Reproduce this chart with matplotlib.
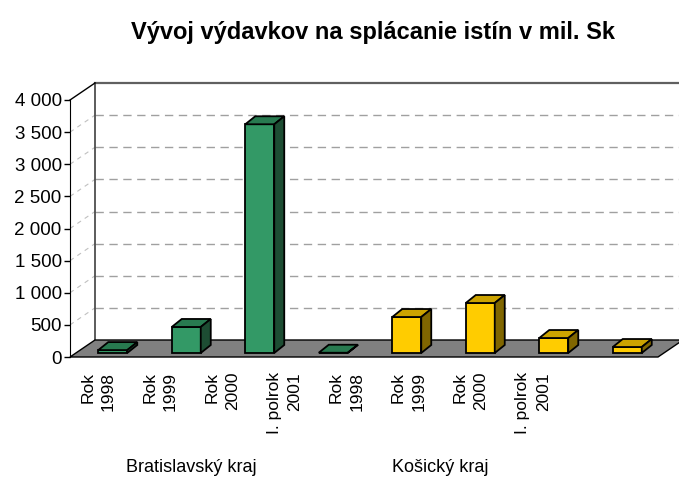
import matplotlib
matplotlib.use("Agg")
import matplotlib.pyplot as plt
from matplotlib.ticker import FuncFormatter
from matplotlib.transforms import offset_copy

plt.rcParams['font.family'] = ['Liberation Sans', 'DejaVu Sans']

# data
title = "Vývoj výdavkov na splácanie istín v mil. Sk"
periods = ["Rok\n1998", "Rok\n1999", "Rok\n2000", "I. polrok\n2001"]
regions = ["Bratislavský kraj", "Košický kraj"]
bratislava = [45, 405, 3560, 4]
kosice = [560, 778, 233, 93]

values = bratislava + kosice
labels = periods + periods
front_col = ["#339966"] * 4 + ["#ffcc00"] * 4
top_col = ["#287a50"] * 4 + ["#cca300"] * 4
side_col = ["#1d4d33"] * 4 + ["#806600"] * 4

W, H = 679, 478
fig = plt.figure(figsize=(W / 100, H / 100), dpi=100)

# front plane of the 3d box in pixels
x0, x1, yb, yt = 70, 658, 357, 100
ax = fig.add_axes([x0 / W, (H - yb) / H, (x1 - x0) / W, (yb - yt) / H])
ax.set_xlim(-0.5, 7.5)
ax.set_ylim(0, 4000)

sx = (x1 - x0) / 8.0          # px per category
sy = (yb - yt) / 4000.0       # px per unit
DX, DY = 25 / sx, 17 / sy     # full depth of the box
ox, oy = 6 / sx, 4 / sy       # bar front offset
bdx, bdy = 10 / sx, 8 / sy    # bar depth
bw = 29 / sx

L, R = -0.5, 7.5
# back wall gridlines
for v in range(500, 4000, 500):
    ax.plot([L + DX, R + DX], [v + DY, v + DY], color="#a0a0a0", lw=1,
            ls=(0, (6, 4)), clip_on=False, zorder=1)
    ax.plot([L, L + DX], [v, v + DY], color="#c0c0c0", lw=0.8,
            ls=(0, (4, 4)), clip_on=False, zorder=1)
ax.plot([L + DX, R + DX], [4000 + DY, 4000 + DY], color="#606060", lw=1.6,
        clip_on=False, zorder=1)
ax.plot([L + DX, L + DX], [DY, 4000 + DY], color="#404040", lw=1.2,
        clip_on=False, zorder=2)
ax.plot([L, L + DX], [4000, 4000 + DY], color="black", lw=1,
        clip_on=False, zorder=2)

# floor
ax.fill([L, R, R + DX, L + DX], [0, 0, DY, DY], facecolor="#808080",
        edgecolor="black", lw=1, clip_on=False, zorder=2)

# bars
for i, v in enumerate(values):
    xl = i - bw / 2 + ox
    xr = xl + bw
    b = oy
    t = oy + v
    ax.bar(xl, v, width=bw, bottom=b, align="edge", color=front_col[i],
           edgecolor="black", lw=1.3, zorder=4, clip_on=False)
    ax.fill([xl, xr, xr + bdx, xl + bdx], [t, t, t + bdy, t + bdy],
            facecolor=top_col[i], edgecolor="black", lw=1.3, zorder=4,
            clip_on=False)
    ax.fill([xr, xr + bdx, xr + bdx, xr], [b, b + bdy, t + bdy, t],
            facecolor=side_col[i], edgecolor="black", lw=1.3, zorder=4,
            clip_on=False)

for s in ["top", "right", "bottom"]:
    ax.spines[s].set_visible(False)
ax.spines["left"].set_color("black")
ax.set_xticks([])
ax.set_yticks(range(0, 4001, 500))
ax.yaxis.set_major_formatter(FuncFormatter(lambda v, p: f"{int(v):,}".replace(",", " ")))
ax.tick_params(axis="y", length=4, width=1, pad=2, labelsize=13.5)
ax.patch.set_alpha(0)

# category labels (Excel puts them on a narrower band)
lx0, lw_ = 67, 497
ax2 = fig.add_axes([lx0 / W, (H - yb) / H, lw_ / W, 0.001])
ax2.set_xlim(-0.5, 7.5)
ax2.set_ylim(0, 1)
ax2.axis("off")
tr_lab = offset_copy(ax2.get_xaxis_transform(), fig=fig, y=-15, units="dots")
tr_reg = offset_copy(ax2.get_xaxis_transform(), fig=fig, y=-110, units="dots")
for i, lab in enumerate(labels):
    ax2.text(i, 0, lab, rotation=90, ha="center", va="top", multialignment="right",
             fontsize=12.5, transform=tr_lab, linespacing=1.45)
for j, reg in enumerate(regions):
    ax2.text(1.5 + 4 * j, 0, reg, ha="center", va="center", fontsize=13,
             transform=tr_reg)

fig.text(373 / W, (H - 33) / H, title, ha="center", va="center",
         fontsize=17, fontweight="bold")

fig.savefig("out.png", dpi=100)
